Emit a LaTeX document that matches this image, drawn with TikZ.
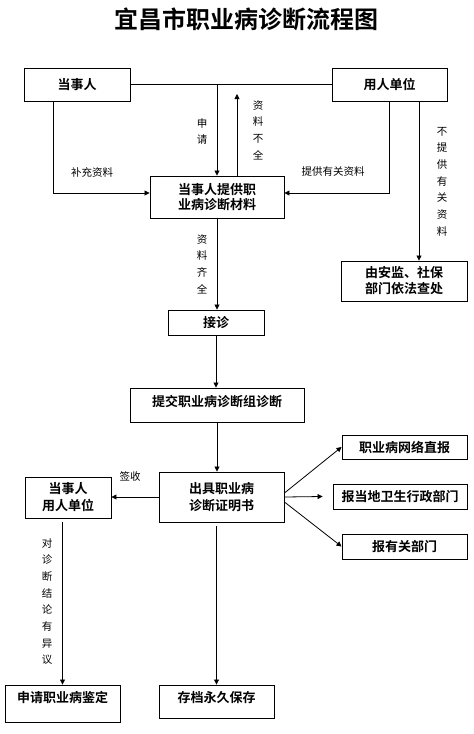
\documentclass[tikz,border=0pt]{standalone}
\usepackage{fontspec}
\setmainfont{Noto Sans CJK SC}[BoldFont={Noto Sans CJK SC Bold}]
\usetikzlibrary{arrows.meta}
\tikzset{
  box/.style={draw,line width=0.9pt,inner sep=0pt,align=center,
    font=\bfseries\fontsize{13}{16}\selectfont},
  conn/.style={line width=0.8pt},
  arr/.style={conn,-{Triangle[length=5pt,width=5pt]}},
  lbl/.style={inner sep=0pt,font=\fontsize{10.5}{12}\selectfont},
  vlbl/.style={lbl,align=center,font=\fontsize{10.5}{16.7}\selectfont},
  ttl/.style={inner sep=0pt,font=\bfseries\fontsize{24}{28}\selectfont}
}
\begin{document}
\begin{tikzpicture}[x=1pt,y=-1pt]
\useasboundingbox (0,0) rectangle (474,734);

% Drawing title
\node[ttl] (title) at (246,19) {宜昌市职业病诊断流程图};%

% Drawing boxes of the upper part
\node[box,minimum width=106,minimum height=33] (dsr) at (77,84.5) {当事人};%
\node[box,minimum width=115,minimum height=33] (yrdw) at (389.5,84.5) {用人单位};%
\node[box,minimum width=134,minimum height=42,font=\bfseries\fontsize{13}{15}\selectfont] (cl) at (217,197) {当事人提供职\\业病诊断材料};%
\node[box,minimum width=126,minimum height=40] (cc) at (404,281) {由安监、社保\\部门依法查处};%
\node[box,minimum width=96,minimum height=25] (jz) at (216,322.5) {接诊};%
\node[box,minimum width=174,minimum height=34,text depth=8pt] (tj) at (217,405) {提交职业病诊断组诊断};%

% Drawing boxes of the lower part
\node[box,minimum width=125,minimum height=50,font=\bfseries\fontsize{13}{17}\selectfont] (zm) at (221.5,497) {出具职业病\\诊断证明书};%
\node[box,minimum width=86,minimum height=41,font=\bfseries\fontsize{13}{17}\selectfont] (qs) at (68,497.5) {当事人\\用人单位};%
\node[box,minimum width=125,minimum height=24] (wl) at (404.5,447) {职业病网络直报};%
\node[box,minimum width=134,minimum height=25] (ws) at (400,496.5) {报当地卫生行政部门};%
\node[box,minimum width=125,minimum height=25] (yg) at (404.5,546.5) {报有关部门};%
\node[box,minimum width=115,minimum height=37,text depth=14pt] (jd) at (62.5,703.5) {申请职业病鉴定};%
\node[box,minimum width=115,minimum height=33,text depth=10pt] (bc) at (216.5,701.5) {存档永久保存};%

% Drawing line dsr yrdw and the arrows below it
\draw[conn] (dsr.east) -- (yrdw.west);%
\draw[arr] (dsr.east -| cl.north) -- (cl.north);%
\coordinate (bq) at (237,94);%
\draw[arr] (cl.north -| bq) -- (bq);%
\draw[arr] ([xshift=-24pt]dsr.south) |- ([yshift=4pt]cl.west);%
\draw[arr] (yrdw.south) |- ([yshift=4pt]cl.east);%
\draw[arr] ([xshift=29.5pt]yrdw.south) -- ([xshift=29.5pt]yrdw.south |- cc.north);%

% Drawing the main column
\draw[arr] (cl.south) -- (cl.south |- jz.north);%
\draw[arr] (jz.south) -- (jz.south |- tj.north);%
\draw[arr] (tj.south) -- (tj.south |- zm.north);%
\draw[arr] (zm.west) -- (zm.west -| qs.east);%
\draw[arr] ([yshift=-4pt]bc.north |- zm.south) -- (bc.north);%
\draw[arr] ([yshift=-4pt]jd.north |- qs.south) -- (jd.north);%

% Drawing arrows to the reports
\draw[arr] ([yshift=4pt]zm.east) -- (wl.west);%
\draw[arr] (zm.east) -- ([xshift=-10pt]ws.west);%
\draw[arr] ([yshift=-5pt]zm.east) -- (yg.west);%

% Marking labels
\node[vlbl] (lsq) at (202,131.5) {申\\请};%
\node[vlbl] (lbq) at (258,130) {资\\料\\不\\全};%
\node[lbl] (lbc) at (92,172) {补充资料};%
\node[lbl] (ltg) at (333,172) {提供有关资料};%
\node[vlbl] (lbt) at (442,181.5) {不\\提\\供\\有\\关\\资\\料};%
\node[vlbl] (lqq) at (202,264) {资\\料\\齐\\全};%
\node[lbl] (lqs) at (130,476) {签收};%
\node[vlbl] (lyy) at (47,601.5) {对\\诊\\断\\结\\论\\有\\异\\议};%
\end{tikzpicture}
\end{document}
